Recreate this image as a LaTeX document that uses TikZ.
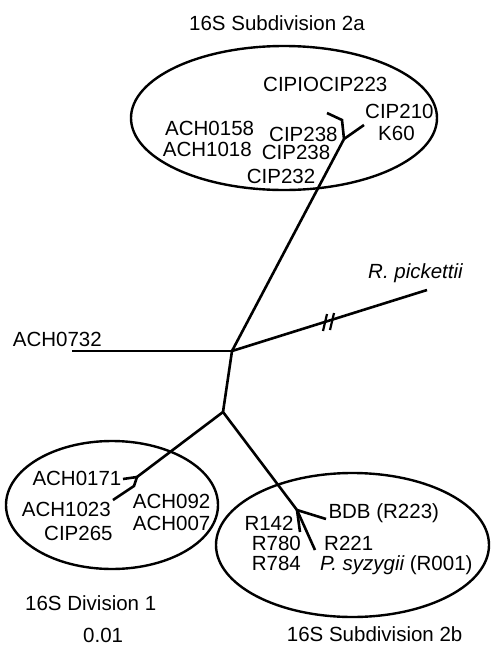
\documentclass[tikz,border=0pt]{standalone}
\usepackage{fontspec}
\setmainfont{Liberation Sans}
\begin{document}
\begin{tikzpicture}[x=1pt,y=-1pt,
  lbl/.style={inner sep=0pt,anchor=base west,font=\fontsize{20.5}{24}\selectfont},
  branch/.style={line width=2.6pt,line cap=butt,line join=miter},
  ring/.style={line width=2.4pt}]
\useasboundingbox (0,0) rectangle (491,646);
% clusters
\draw[ring] (284,118) ellipse [x radius=153, y radius=72];
\draw[ring] (112,505) ellipse [x radius=106, y radius=64];
\draw[ring] (352.5,545) ellipse [x radius=136.5, y radius=72];
% tree coordinates
\coordinate (c) at (232,351);
\coordinate (j1) at (344,139);
\coordinate (b1) at (342,120);
\coordinate (b1e) at (327,113);
\coordinate (k60e) at (364,125);
\coordinate (a732) at (72,351);
\coordinate (rp) at (427,290);
\coordinate (jl) at (223,412);
\coordinate (j2) at (137,477);
\coordinate (a171) at (123,479);
\coordinate (j2b) at (134,486);
\coordinate (a1023) at (113,500);
\coordinate (j3) at (297,510);
\coordinate (bdb) at (326,519);
\coordinate (r142) at (300,532);
\coordinate (psy) at (315,550);
\coordinate (h1a) at (323,331);
\coordinate (h1b) at (327,314);
\coordinate (h2a) at (330,330);
\coordinate (h2b) at (334,313);
% branches
\draw[branch] (c) -- (j1);
\draw[branch] (b1e) -- (b1) -- (j1);
\draw[branch] (k60e) -- (j1);
\draw[branch] (a732) -- (c);
\draw[branch] (c) -- (rp);
\draw[line width=2.2pt] (h1a) -- (h1b);
\draw[line width=2.2pt] (h2a) -- (h2b);
\draw[branch] (c) -- (jl);
\draw[branch] (jl) -- (j2);
\draw[branch] (a171) -- (j2) -- (j2b) -- (a1023);
\draw[branch] (jl) -- (j3);
\draw[branch] (j3) -- (bdb);
\draw[branch] (j3) -- (r142);
\draw[branch] (j3) -- (psy);
% labels
\node[lbl] (t2a) at (189,30.7) {16S Subdivision 2a};
\node[lbl] (tcipio) at (263,91.7) {CIPIOCIP223};
\node[lbl] (tcip210) at (365,118) {CIP210};
\node[lbl] (tk60) at (378,140) {K60};
\node[lbl] (t158) at (165,135) {ACH0158};
\node[lbl] (t1018) at (162.7,156.7) {ACH1018};
\node[lbl] (t238a) at (269,141) {CIP238};
\node[lbl] (t238b) at (261.7,159.5) {CIP238};
\node[lbl] (t232) at (246.7,183) {CIP232};
\node[lbl] (t732) at (12.7,346) {ACH0732};
\node[lbl] (trp) at (368,278) {\itshape R. pickettii};
\node[lbl] (t171) at (32.3,485.7) {ACH0171};
\node[lbl] (t1023) at (21.7,516.7) {ACH1023};
\node[lbl] (t265) at (44,540) {CIP265};
\node[lbl] (t092) at (132.7,508) {ACH092};
\node[lbl] (t007) at (132.7,530) {ACH007};
\node[lbl] (td1) at (25,610) {16S Division 1};
\node[lbl] (tscale) at (83,642) {0.01};
\node[lbl] (tbdb) at (328.3,518) {BDB (R223)};
\node[lbl] (t142) at (244.3,530.7) {R142};
\node[lbl] (t780) at (251.7,550) {R780};
\node[lbl] (t784) at (251.7,570) {R784};
\node[lbl] (t221) at (324,550.7) {R221};
\node[lbl] (tpsy) at (320,570) {\itshape P. syzygii\upshape{} (R001)};
\node[lbl] (t2b) at (286.7,641.7) {16S Subdivision 2b};
\end{tikzpicture}
\end{document}
